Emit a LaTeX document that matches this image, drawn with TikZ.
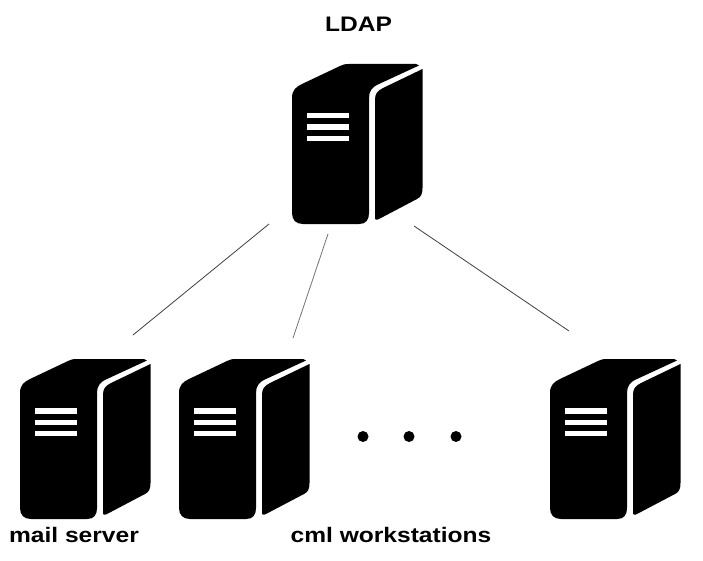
\documentclass[tikz,border=0pt]{standalone}
\usepackage{fontspec}
\setmainfont[FakeStretch=1.17]{Liberation Sans}
\tikzset{
  lbl/.style={inner sep=0pt,font=\fontsize{21}{24}\selectfont\bfseries,text=black,anchor=base},
  dotn/.style={circle,fill=black,minimum size=11pt,inner sep=0pt},
  linkline/.style={line width=0.8pt,color=black!75},
  server/.pic={
    \fill[black] (292,98) .. controls (292,90) and (296,87) .. (302,84)
      -- (340,66) .. controls (343,64.5) and (345,64) .. (349,64)
      -- (416,64) -- (419,65.5) -- (379,84) .. controls (372,87) and (369,91) .. (369,98)
      -- (369,213) .. controls (369,220) and (366,224) .. (359,224)
      -- (303,224) .. controls (296,224) and (292,220) .. (292,213) -- cycle;
    \fill[black] (422.5,69) -- (422.5,188) .. controls (422.5,194) and (421,197) .. (417,199)
      -- (379,219) .. controls (376,220.5) and (375,220) .. (375,217)
      -- (375,100) .. controls (375,94) and (377,91) .. (383,88) -- cycle;
    \fill[white] (307,113) rectangle (349,118.5);
    \fill[white] (307,124.5) rectangle (349,130);
    \fill[white] (307,136) rectangle (349,141);
  }
}
\begin{document}
\begin{tikzpicture}[x=1pt,y=-1pt]
\useasboundingbox[fill=white] (0,0) rectangle (703,561);
\pic at (0,0) {server};
\pic at (-272,295) {server};
\pic at (-113,295) {server};
\pic at (258,295) {server};
\coordinate (a1) at (269,224);
\coordinate (b1) at (133,335);
\coordinate (a2) at (328,234);
\coordinate (b2) at (293,338);
\coordinate (a3) at (414,226);
\coordinate (b3) at (569,331);
\draw[linkline] (a1) -- (b1);
\draw[linkline,color=black!55] (a2) -- (b2);
\draw[linkline] (a3) -- (b3);
\node[dotn] (d1) at (363,436.5) {};
\node[dotn] (d2) at (409,436.5) {};
\node[dotn] (d3) at (456,436.5) {};
\node[lbl] (ldap) at (358.5,32) {LDAP};
\node[lbl] (mail) at (74,542) {mail server};
\node[lbl] (cml) at (391,542) {cml workstations};
\end{tikzpicture}
\end{document}
